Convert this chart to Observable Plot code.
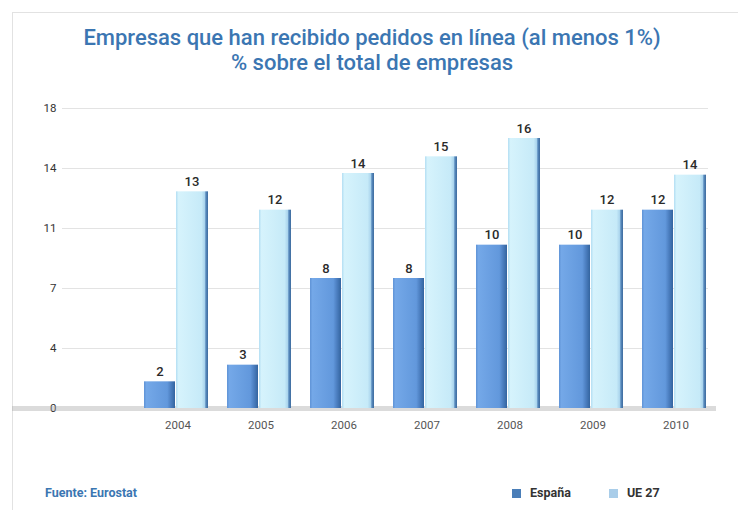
<!DOCTYPE html>
<html>
<head>
<meta charset="utf-8">
<script src="https://cdn.jsdelivr.net/npm/d3@7"></script>
<script src="https://cdn.jsdelivr.net/npm/@observablehq/plot@0.6"></script>
<style>
  html, body { margin: 0; padding: 0; background: #fff; }
  #page { position: relative; width: 738px; height: 510px; overflow: hidden; font-family: Roboto, "Open Sans", sans-serif; }
  #card { position: absolute; left: 12px; top: 12px; width: 740px; height: 520px; border-top: 1px solid #e2e2e2; border-left: 1px solid #e2e2e2; }
  #title { position: absolute; top: 25px; left: 0; width: 744px; text-align: center; color: #3b76b2; font-weight: 500; font-size: 22px; line-height: 25px; }
  #chart { position: absolute; top: 80px; left: 0; }
  #source { position: absolute; left: 45px; top: 485px; color: #3b76b2; font-weight: 700; font-size: 12.5px; }
  #legend { position: absolute; left: 512px; top: 485px; font-size: 12.5px; font-weight: 700; color: #333; display: flex; gap: 0; }
  .sw { display: inline-block; width: 9px; height: 9px; margin-right: 9px; vertical-align: -1px; }
  .item { margin-right: 38px; }
</style>
</head>
<body>
<div id="page">
  <div id="card"></div>
  <div id="title">Empresas que han recibido pedidos en línea (al menos 1%)<br>% sobre el total de empresas</div>
  <div id="chart"></div>
  <div id="source">Fuente: Eurostat</div>
  <div id="legend"></div>
</div>
<script>
const years = ["2004", "2005", "2006", "2007", "2008", "2009", "2010"];
const espana = [1.6, 2.6, 7.8, 7.8, 9.8, 9.8, 11.9];
const ue27 = [13.0, 11.9, 14.1, 15.1, 16.2, 11.9, 14.0];
const seriesNames = ["España", "UE 27"];
const yTicks = [0, 3.6, 7.2, 10.8, 14.4, 18];
const yTickLabels = ["0", "4", "7", "11", "14", "18"];

const dataEs = years.map((y, i) => ({year: y, value: espana[i]}));
const dataUe = years.map((y, i) => ({year: y, value: ue27[i]}));
const tickLabel = new Map(yTicks.map((t, i) => [t, yTickLabels[i]]));

const chart = Plot.plot({
  width: 738,
  height: 360,
  marginLeft: 62,
  marginRight: 30,
  marginTop: 28,
  marginBottom: 32,
  style: {fontFamily: "Roboto, sans-serif", background: "transparent", overflow: "visible"},
  x: {domain: years, range: [133, 719], padding: 0, label: null, tickSize: 0, tickPadding: 12},
  y: {domain: [0, 18], ticks: yTicks, label: null, tickSize: 0, tickPadding: 6, tickFormat: d => tickLabel.get(d)},
  marks: [
    Plot.ruleY(yTicks.slice(1), {stroke: "#e3e3e3", strokeWidth: 1.2}),
    Plot.ruleY([0], {stroke: "#a5a5a5", strokeWidth: 5, strokeOpacity: 0.4, insetLeft: -50, insetRight: -8}),
    Plot.barY(dataEs, {x: "year", y: "value", fill: "url(#gEs)", insetLeft: 8, insetRight: 44}),
    Plot.barY(dataUe, {x: "year", y: "value", fill: "url(#gUe)", insetLeft: 40, insetRight: 11}),
    Plot.text(dataEs, {x: "year", y: "value", text: d => d3.format(".0f")(d.value), dx: -18, dy: -10, fontSize: 13, fontWeight: 500, fill: "#2a2a2a"}),
    Plot.text(dataUe, {x: "year", y: "value", text: d => d3.format(".0f")(d.value), dx: 14, dy: -10, fontSize: 13, fontWeight: 500, fill: "#2a2a2a"})
  ]
});

// gradients for the pseudo-3D bar shading
const ns = "http://www.w3.org/2000/svg";
const defs = document.createElementNS(ns, "defs");
defs.innerHTML = `
  <linearGradient id="gEs" x1="0" x2="1" y1="0" y2="0">
    <stop offset="0" stop-color="#5f93d6"/>
    <stop offset="0.08" stop-color="#74a8e8"/>
    <stop offset="0.75" stop-color="#6298dc"/>
    <stop offset="0.86" stop-color="#4d80c2"/>
    <stop offset="1" stop-color="#33649f"/>
  </linearGradient>
  <linearGradient id="gUe" x1="0" x2="1" y1="0" y2="0">
    <stop offset="0" stop-color="#b3def3"/>
    <stop offset="0.08" stop-color="#d6f3fc"/>
    <stop offset="0.8" stop-color="#c6eaf8"/>
    <stop offset="0.9" stop-color="#a9d3ec"/>
    <stop offset="0.93" stop-color="#5a8cbf"/>
    <stop offset="1" stop-color="#3d6b9e"/>
  </linearGradient>`;
chart.insertBefore(defs, chart.firstChild);
chart.querySelectorAll('[aria-label="x-axis tick label"]').forEach(n => n.setAttribute("fill", "#555"));
chart.querySelectorAll('[aria-label="y-axis tick label"]').forEach(n => n.setAttribute("fill", "#333"));
chart.setAttribute("font-size", "11.5");
document.getElementById("chart").appendChild(chart);

const legend = document.getElementById("legend");
const colors = ["#4a7eb8", "#a9cde9"];
seriesNames.forEach((name, i) => {
  const s = document.createElement("span");
  s.className = "item";
  s.innerHTML = `<span class="sw" style="background:${colors[i]}"></span>${name}`;
  legend.appendChild(s);
});
</script>
</body>
</html>
